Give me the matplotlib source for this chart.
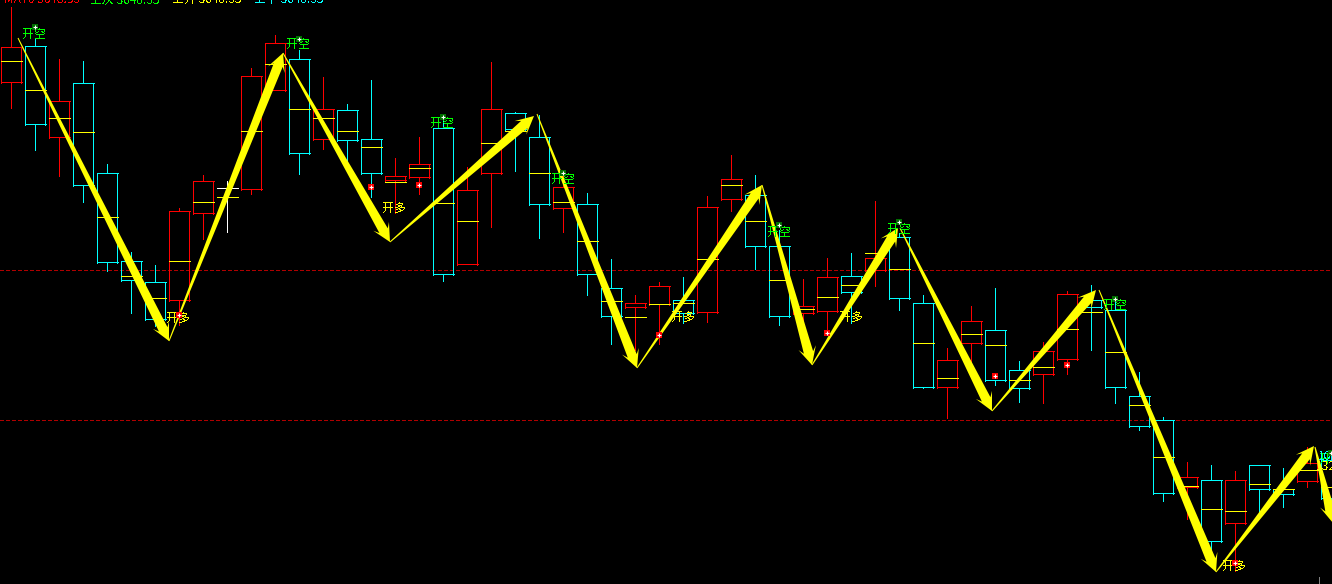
import numpy as np
import matplotlib
matplotlib.use('Agg')
import matplotlib.pyplot as plt

plt.rcParams['font.family'] = ['Noto Sans CJK SC', 'DejaVu Sans']

RED = '#ff0000'
CYAN = '#00ffff'
WHITE = '#ffffff'
YELLOW = '#ffff00'
GREEN = '#00ff00'

# candles
colors = ['r', 'c', 'r', 'c', 'c', 'c', 'c', 'r', 'r', 'w', 'r', 'r', 'c', 'r',
          'c', 'c', 'r', 'r', 'c', 'r', 'r', 'c', 'c', 'r', 'c', 'c', 'r', 'r',
          'c', 'r', 'r', 'c', 'c', 'r', 'r', 'c', 'r', 'c', 'c', 'r', 'r', 'c',
          'c', 'r', 'r', 'c', 'c', 'c', 'c', 'r', 'c', 'r', 'c', 'c', 'r', 'c']
highs = [7, 39, 59, 61, 164, 252, 265, 208, 175, 181, 68, 35, 50, 77,
         104, 80, 158, 137, 121, 167, 62, 112, 115, 170, 193, 259, 295, 282,
         277, 196, 155, 175, 230, 279, 258, 253, 201, 233, 295, 348, 306, 288,
         361, 342, 291, 285, 297, 372, 417, 462, 465, 471, 465, 468, 447, 450]
tops = [47, 46, 101, 83, 173, 261, 282, 211, 181, 188, 76, 43, 59, 109,
        110, 139, 176, 164, 128, 190, 109, 113, 137, 187, 204, 288, 303, 286,
        300, 207, 179, 195, 246, 306, 277, 276, 258, 237, 303, 360, 321, 330,
        370, 351, 294, 300, 310, 396, 420, 477, 480, 480, 465, 489, 463, 460]
mids = [61, 90, 118, 132, 217, 276, 298, 261, 202, 197, 131, 64, 109, 118,
        131, 147, 182, 168, 203, 221, 143, 131, 173, 202, 241, 301, 317, 304,
        303, 259, 185, 221, 280, 309, 297, 285, 253, 269, 343, 378, 334, 345,
        380, 367, 329, 312, 352, 405, 457, 486, 509, 511, 484, 489, 470, 487]
bottoms = [82, 124, 137, 185, 262, 280, 319, 300, 213, 188, 189, 90, 153, 139,
           140, 173, 180, 177, 274, 264, 173, 129, 204, 208, 274, 316, 307, 304,
           313, 312, 199, 246, 316, 313, 311, 292, 270, 298, 387, 387, 343, 380,
           388, 374, 359, 307, 387, 426, 493, 487, 541, 523, 489, 494, 481, 498]
lows = [108, 150, 176, 202, 271, 313, 326, 325, 239, 232, 194, 90, 174, 149,
        163, 197, 213, 194, 281, 264, 227, 171, 238, 232, 295, 344, 350, 344,
        323, 322, 211, 269, 325, 340, 333, 323, 286, 310, 388, 418, 370, 385,
        402, 403, 374, 350, 403, 430, 501, 519, 565, 571, 512, 507, 487, 510]

# zigzag turning points, the last one runs off the right edge
zig_tail_x = [18, 169, 283, 390, 537, 637, 762, 812, 900, 992, 1099, 1216, 1315]
zig_tail_y = [38, 341, 53, 242, 114, 368, 185, 365, 228, 411, 290, 572, 447]
zig_tip_x = [169, 283, 390, 534, 637, 762, 812, 898, 992, 1096, 1216, 1314, 1333]
zig_tip_y = [341, 53, 242, 116, 368, 185, 365, 228, 411, 290, 572, 446, 523]

short_x = [34.5, 298.5, 442.5, 563, 779, 899, 1115, 1331]
short_y = [34, 44, 123, 179, 232, 229, 305, 459]
long_x = [178.5, 394.5, 683, 851, 1234.5]
long_y = [318, 208, 317, 317, 566]

green_mark_x = [35, 299, 443, 563, 779, 899, 1115, 1331]
green_mark_y = [27, 39, 117, 173, 225, 222, 299, 453]
red_mark_x = [179, 371, 419, 659, 827, 995, 1067, 1235]
red_mark_y = [315, 187, 185, 335, 333, 376, 365, 563]

level_rows = [270, 420]

header_x = [4, 90, 172, 254]
header_text = ['MA70 3648.35', '上决 3648.35', '上升 3648.35', '上下 3648.35']
header_color = [RED, GREEN, YELLOW, CYAN]

candle_x = 11 + 24 * np.arange(len(colors))
color_map = {'r': RED, 'c': CYAN, 'w': WHITE}


def hline(ax, x0, x1, row, color, z=3):
    ax.plot([x0, x1], [row, row], color=color, lw=0.72,
            antialiased=False, solid_capstyle='butt', zorder=z)


def vline(ax, col, y0, y1, color, z=3):
    ax.plot([col, col], [y0, y1], color=color, lw=0.72,
            antialiased=False, solid_capstyle='butt', zorder=z)


def draw_candle(ax, x, high, top, mid, bottom, low, color):
    left = x - 10
    right = x + 10
    vline(ax, x, high, top, color)
    vline(ax, x, bottom, low, color)
    if color == WHITE:
        hline(ax, left, right + 1, top, WHITE)
    else:
        hline(ax, left, right + 1, top, color)
        hline(ax, left, right + 1, bottom, color)
        vline(ax, left, top, bottom + 1, color)
        vline(ax, right, top, bottom + 1, color)
    hline(ax, left, right + 1, mid, YELLOW, z=3.5)


def draw_arrow(ax, x0, y0, x1, y1):
    # thin tail widening up to a barbed head
    d = np.array([x1 - x0, y1 - y0], dtype=float)
    d = d / np.hypot(d[0], d[1])
    n = np.array([d[1], -d[0]])
    tail = np.array([x0, y0], dtype=float)
    tip = np.array([x1, y1], dtype=float)
    neck = tip - d * 13
    base = tip - d * 18
    pts = [tail + n * 0.5, neck + n * 4.8, base + n * 9, tip,
           base - n * 9, neck - n * 4.8, tail - n * 0.5]
    pts = np.array(pts)
    ax.fill(pts[:, 0], pts[:, 1], color=YELLOW, lw=0, zorder=5)


fig = plt.figure(figsize=(13.32, 5.84), dpi=100, facecolor='black')
ax = fig.add_axes([0, 0, 1, 1])
ax.set_facecolor('black')
ax.set_xlim(0, 1332)
ax.set_ylim(584, 0)
ax.axis('off')

for row in level_rows:
    ax.plot([0, 1332], [row, row], color='#b00000', lw=0.8,
            dashes=(3, 2), antialiased=False, zorder=2)

for i in range(len(colors)):
    draw_candle(ax, candle_x[i], highs[i], tops[i], mids[i], bottoms[i], lows[i],
                color_map[colors[i]])

# the stray grey wick at the bottom right
vline(ax, 1319, 577, 584, '#808080')

for i in range(len(zig_tip_x)):
    draw_arrow(ax, zig_tail_x[i], zig_tail_y[i], zig_tip_x[i], zig_tip_y[i])

for x, y in zip(short_x, short_y):
    ax.text(x, y, '开空', color=GREEN, fontsize=8.64, ha='center', va='center',
            antialiased=False, zorder=6)
for x, y in zip(long_x, long_y):
    ax.text(x, y, '开多', color=YELLOW, fontsize=8.64, ha='center', va='center',
            antialiased=False, zorder=6)

# small labels that pile up at the right edge
ax.text(1318, 460, '10', color=CYAN, fontsize=8.64, ha='left', va='baseline',
        antialiased=False, zorder=6)
ax.text(1316, 470, '132', color=YELLOW, fontsize=8.64, ha='left', va='baseline',
        antialiased=False, zorder=6)

ax.plot(green_mark_x, green_mark_y, ls='', marker='s', ms=5, mew=0, color='#006e00', zorder=7)
ax.plot(green_mark_x, green_mark_y, ls='', marker='+', ms=3, mew=0.8, color=WHITE, zorder=8)
ax.plot(red_mark_x, red_mark_y, ls='', marker='s', ms=5, mew=0, color=RED, zorder=7)
ax.plot(red_mark_x, red_mark_y, ls='', marker='+', ms=3, mew=0.8, color=WHITE, zorder=8)

# only the bottom of the header line is inside the picture
for x, txt, c in zip(header_x, header_text, header_color):
    ax.text(x, 3, txt, color=c, fontsize=8.64, ha='left', va='baseline', clip_on=True,
            antialiased=False, zorder=6)

fig.savefig('out.png', dpi=100, facecolor='black')
